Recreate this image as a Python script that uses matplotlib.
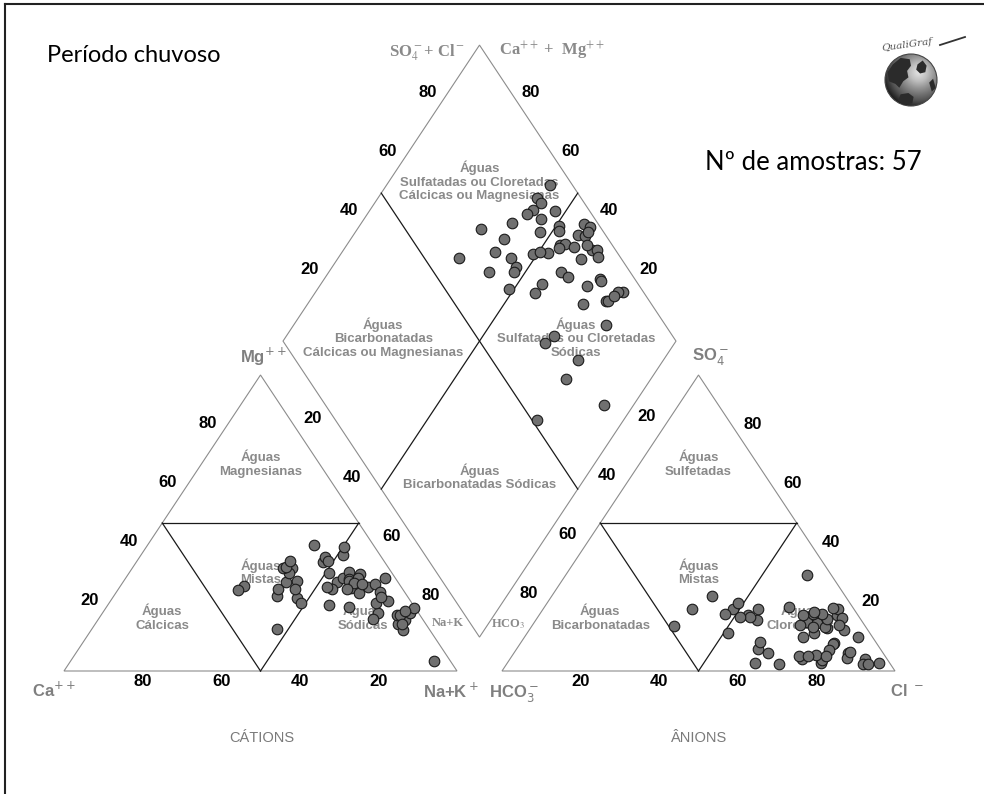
import matplotlib.pyplot as plt
import numpy as np
from matplotlib.patches import Polygon, Ellipse
from matplotlib.lines import Line2D

# percentages (meq) per sample: cations and anions
ca = [28.6, 24.6, 15.0, 15.7, 33.2, 26.1, 15.9, 39.8, 26.8, 14.3, 9.3, 15.5, 13.3, 26.0, 23.8,
      17.9, 41.9, 25.6, 28.5, 28.1, 18.9, 31.8, 38.8, 14.2, 10.8, 21.3, 8.3, 16.6, 12.0, 9.5,
      12.4, 13.0, 11.3, 14.3, 8.4, 6.2, 11.9, 2.6, 10.3, 5.6, 9.0, 4.7, 7.0, 5.7, 5.0,
      12.5, 6.7, 6.2, 6.8, 2.1, 0.3, 4.0, 6.2, 9.6, 27.4, 7.8, 3.1]
mg = [30.0, 34.9, 42.6, 36.9, 25.4, 33.2, 33.2, 28.7, 34.9, 38.6, 39.2, 30.2, 31.3, 35.0, 37.2,
      27.6, 27.4, 30.4, 24.6, 23.1, 28.5, 27.6, 14.1, 37.2, 33.3, 22.3, 32.7, 21.7, 31.0, 31.5,
      30.4, 28.0, 29.6, 27.6, 28.3, 29.3, 26.3, 31.5, 19.5, 23.8, 23.0, 17.2, 16.0, 18.9, 19.0,
      17.5, 13.9, 26.8, 25.1, 19.7, 21.2, 3.5, 15.8, 29.3, 27.6, 41.8, 20.3]
nak = [41.4, 40.5, 42.4, 47.4, 41.4, 40.7, 50.9, 31.5, 38.3, 47.1, 51.5, 54.3, 55.4, 39.0, 39.0,
       54.5, 30.7, 44.0, 46.9, 48.8, 52.6, 40.6, 47.1, 48.6, 55.9, 56.4, 59.0, 61.7, 57.0, 59.0,
       57.2, 59.0, 59.1, 58.1, 63.3, 64.5, 61.8, 65.9, 70.2, 70.6, 68.0, 78.1, 77.0, 75.4, 76.0,
       70.0, 79.4, 67.0, 68.1, 78.2, 78.5, 92.5, 78.0, 61.1, 45.0, 50.4, 76.6]
hco3 = [5.7, 11.1, 10.9, 8.8, 14.2, 16.4, 10.2, 30.6, 21.7, 16.1, 11.2, 13.2, 11.9, 26.6, 31.0,
        14.2, 41.3, 28.0, 28.2, 21.8, 17.6, 35.9, 29.4, 33.7, 27.8, 24.4, 17.5, 16.7, 3.6, 2.6,
        7.0, 5.4, 4.0, 10.1, 5.9, 4.6, 10.4, 5.6, 8.7, 9.0, 13.3, 5.2, 6.3, 11.1, 10.6,
        17.4, 15.1, 33.7, 30.3, 28.3, 34.3, 29.2, 48.5, 6.4, 13.9, 19.5, 8.2]
so4 = [3.9, 17.4, 9.3, 6.2, 16.6, 15.5, 14.4, 21.1, 4.0, 21.6, 9.1, 7.1, 16.1, 17.2, 7.6,
       12.7, 20.8, 19.0, 2.4, 5.1, 11.5, 13.0, 9.9, 19.2, 18.3, 20.8, 2.8, 3.7, 11.5, 2.8,
       2.4, 18.9, 21.0, 4.3, 14.0, 17.9, 14.9, 2.4, 17.4, 19.4, 14.9, 21.4, 32.3, 19.4, 20.0,
       5.4, 5.1, 25.5, 18.3, 23.1, 2.6, 6.0, 15.3, 15.5, 18.9, 5.1, 6.5]
cl = [90.4, 71.5, 79.8, 85.0, 69.2, 68.1, 75.4, 48.3, 74.3, 62.3, 79.7, 79.7, 72.0, 56.2, 61.4,
      73.1, 37.9, 53.0, 69.4, 73.1, 70.9, 51.1, 60.7, 47.1, 53.9, 54.8, 79.7, 79.6, 84.9, 94.6,
      90.6, 75.7, 75.0, 85.6, 80.1, 77.5, 74.7, 92.0, 73.9, 71.6, 71.8, 73.4, 61.4, 69.5, 69.4,
      77.2, 79.8, 40.8, 51.4, 48.6, 63.1, 64.8, 36.2, 78.1, 67.2, 75.4, 85.3]
ticks = [20, 40, 60, 80]

H = np.sqrt(3) / 2
GAP = 0.1145
OFF = 1 + GAP
BX, BY = 1 + GAP / 2, GAP / 2 * np.sqrt(3)

# pixel scale of the reference layout
X0, Y0, SX, SY = 64, 671, 393, 341.8


def px(dx, dy):
    # pixel offset (y down) -> data offset
    return dx / SX, -dy / SY


def P(xp, yp):
    # absolute pixel position (from top-left) -> data coords
    return (xp - X0) / SX, (Y0 - yp) / SY


def cat_xy(c, m, n):
    c, m, n = (np.asarray(v, float) for v in (c, m, n))
    t = c + m + n
    return n / t + 0.5 * m / t, H * m / t


def an_xy(h, s, c):
    h, s, c = (np.asarray(v, float) for v in (h, s, c))
    t = h + s + c
    return OFF + c / t + 0.5 * s / t, H * s / t


def dia_xy(camg, so4cl):
    camg = np.asarray(camg, float) / 100
    so4cl = np.asarray(so4cl, float) / 100
    return BX + 0.5 * (so4cl - camg), BY + H * (so4cl + camg)


def put(xy, off, s, **kw):
    ox, oy = px(*off)
    ax.text(xy[0] + ox, xy[1] + oy, s, **kw)


fig = plt.figure(figsize=(9.84, 7.94), dpi=100)
ax = fig.add_axes([0, 0, 1, 1])
ax.set_xlim(-X0 / SX, (984 - X0) / SX)
ax.set_ylim((Y0 - 794) / SY, Y0 / SY)
ax.axis('off')

GRAY_LINE = '#8c8c8c'
INNER = '#1a1a1a'
TXT_GRAY = '#8a8a8a'
NUM = dict(fontsize=12, fontweight='bold', family='Liberation Sans', ha='center', va='center', color='black')
REG = dict(fontsize=9.5, fontweight='bold', family='Liberation Sans', ha='center', va='center',
           color=TXT_GRAY, linespacing=1.2, zorder=2)

# outlines
for pts in ([cat_xy(100, 0, 0), cat_xy(0, 0, 100), cat_xy(0, 100, 0)],
            [an_xy(100, 0, 0), an_xy(0, 0, 100), an_xy(0, 100, 0)],
            [dia_xy(0, 0), dia_xy(0, 100), dia_xy(100, 100), dia_xy(100, 0)]):
    ax.add_patch(Polygon(pts, closed=True, fill=False, ec=GRAY_LINE, lw=0.8, zorder=1))

# inner class lines
for a, b in [(cat_xy(50, 50, 0), cat_xy(0, 50, 50)), (cat_xy(50, 50, 0), cat_xy(50, 0, 50)),
             (cat_xy(0, 50, 50), cat_xy(50, 0, 50)),
             (an_xy(50, 50, 0), an_xy(0, 50, 50)), (an_xy(50, 50, 0), an_xy(50, 0, 50)),
             (an_xy(0, 50, 50), an_xy(50, 0, 50)),
             (dia_xy(100, 50), dia_xy(0, 50)), (dia_xy(50, 100), dia_xy(50, 0))]:
    ax.plot([a[0], b[0]], [a[1], b[1]], color=INNER, lw=0.9, zorder=1)

# tick labels
for v in ticks:
    for xy, off in [(cat_xy(v, 0, 100 - v), (0, 10)),
                    (cat_xy(100 - v, v, 0), (-14, -11)),
                    (cat_xy(0, 100 - v, v), (13, -16)),
                    (an_xy(100 - v, 0, v), (0, 10)),
                    (an_xy(v, 100 - v, 0), (-13, -18)),
                    (an_xy(0, v, 100 - v), (15, -10)),
                    (dia_xy(100, v), (-13, -12)),
                    (dia_xy(v, 100), (12, -12))]:
        put(xy, off, str(v), **NUM)

# region names
regions = [
    (cat_xy(15, 70, 15), 'Águas\nMagnesianas'),
    (cat_xy(33.3, 33.3, 33.3), 'Águas\nMistas'),
    (cat_xy(66, 18, 16), 'Águas\nCálcicas'),
    (cat_xy(15, 18, 67), 'Águas\nSódicas'),
    (an_xy(15, 70, 15), 'Águas\nSulfetadas'),
    (an_xy(33.3, 33.3, 33.3), 'Águas\nMistas'),
    (an_xy(66, 18, 16), 'Águas\nBicarbonatadas'),
    (an_xy(15, 18, 67), 'Águas\nCloretadas'),
    (dia_xy(77, 77), 'Águas\nSulfatadas ou Cloretadas\nCálcicas ou Magnesianas'),
    (dia_xy(75, 26), 'Águas\nBicarbonatadas\nCálcicas ou Magnesianas'),
    (dia_xy(26, 75), 'Águas\nSulfatadas ou Cloretadas\nSódicas'),
    (dia_xy(27, 27), 'Águas\nBicarbonatadas Sódicas'),
]
for (x, y), s in regions:
    ax.text(x, y, s, **REG)

# vertex labels
VTX = dict(fontsize=12, fontweight='bold', family='Liberation Sans', color='#7f7f7f',
           ha='center', va='center', math_fontfamily='dejavusans')
for xy, off, s in [(cat_xy(0, 100, 0), (3, -18), 'Mg$^{++}$'),
                   (cat_xy(100, 0, 0), (-10, 19), 'Ca$^{++}$'),
                   (cat_xy(0, 0, 100), (-6, 20), 'Na+K$^+$'),
                   (an_xy(100, 0, 0), (12, 22), 'HCO$_3^-$'),
                   (an_xy(0, 0, 100), (12, 20), 'Cl $^-$'),
                   (an_xy(0, 100, 0), (12, -18), 'SO$_4^-$')]:
    put(xy, off, s, **VTX)

SER = dict(family='Liberation Serif', fontweight='bold', color='#8a8a8a', ha='center', va='center',
           math_fontfamily='stix')
top = dia_xy(100, 100)
put(top, (-52, 8), 'SO$_4^-$+ Cl$^-$', fontsize=12, **SER)
put(top, (72, 6), 'Ca$^{++}$ +  Mg$^{++}$', fontsize=12, **SER)
put(cat_xy(0, 20, 80), (30, 11), 'Na+K', fontsize=9, **SER)
put(an_xy(80, 20, 0), (-33, 12), 'HCO$_3$', fontsize=9, **SER)

# data points
cx, cy = cat_xy(ca, mg, nak)
axx, ayy = an_xy(hco3, so4, cl)
camg = np.array(ca) + np.array(mg)
so4cl = np.array(so4) + np.array(cl)
dxx, dyy = dia_xy(camg / (camg + np.array(nak)) * 100, so4cl / (so4cl + np.array(hco3)) * 100)
for x, y in [(cx, cy), (axx, ayy), (dxx, dyy)]:
    ax.scatter(x, y, s=58, facecolor='#707070', edgecolor='#1a1a1a', linewidth=0.8, zorder=3)

# captions
CAP = dict(fontsize=10.5, family=['Liberation Sans Narrow', 'Liberation Sans'], color='#7a7a7a',
           ha='center', va='center')
put(cat_xy(50, 0, 50), (1, 67), 'CÁTIONS', **CAP)
put(an_xy(50, 0, 50), (1, 67), 'ÂNIONS', **CAP)

ax.text(*P(47, 55), 'Período chuvoso', fontsize=17, family='Lato', ha='left', va='center', color='black')
ax.text(*P(705, 163), 'Nº de amostras: 57', fontsize=18.5, family='Lato', ha='left', va='center', color='black')

# logo: small shaded globe
gx, gy = P(911, 80)
rw, rh = 26 / SX, 26 / SY
globe = Ellipse((gx, gy), 2 * rw, 2 * rh, fc='none', ec='#444444', lw=0.8, zorder=4)
ax.add_patch(globe)
yy, xx = np.mgrid[-1:1:120j, -1:1:120j]
shade = np.sqrt((xx - 0.3) ** 2 + (yy - 0.3) ** 2)
im = ax.imshow(shade, cmap='Greys', vmin=-0.4, vmax=1.6, extent=(gx - rw, gx + rw, gy - rh, gy + rh),
               origin='lower', aspect='auto', zorder=3)
im.set_clip_path(globe)
land = [[(-0.9, 0.3), (-0.7, 0.6), (-0.4, 0.85), (-0.05, 0.8), (0.0, 0.55), (-0.15, 0.35),
         (-0.1, 0.1), (-0.3, -0.05), (-0.45, -0.3), (-0.6, -0.15), (-0.85, -0.05)],
        [(0.25, 0.6), (0.45, 0.75), (0.6, 0.55), (0.55, 0.3), (0.35, 0.25), (0.2, 0.4)],
        [(-0.4, -0.55), (-0.1, -0.5), (0.1, -0.65), (0.05, -0.9), (-0.3, -0.95), (-0.5, -0.8)],
        [(0.7, -0.1), (0.85, 0.05), (0.95, -0.3), (0.8, -0.45)]]
for poly in land:
    p = Polygon([(gx + a * rw, gy + b * rh) for a, b in poly], closed=True, fc='#2b2b2b', ec='none', zorder=4)
    p.set_clip_path(globe)
    ax.add_patch(p)
ax.text(*P(907, 45), 'QualiGraf', fontsize=7.5, fontstyle='italic', family='DejaVu Serif', color='#555555',
        rotation=8, ha='center', va='center')
(x1, y1), (x2, y2) = P(940, 45), P(965, 37)
ax.plot([x1, x2], [y1, y2], color='#333333', lw=1.3)

# frame of the slide (cut at the right and bottom)
fig.add_artist(Line2D([5 / 984, 1], [1 - 4 / 794, 1 - 4 / 794], color='#222222', lw=1.5))
fig.add_artist(Line2D([5 / 984, 5 / 984], [0, 1 - 4 / 794], color='#222222', lw=1.5))

fig.savefig('out.png', dpi=100, facecolor='white')
